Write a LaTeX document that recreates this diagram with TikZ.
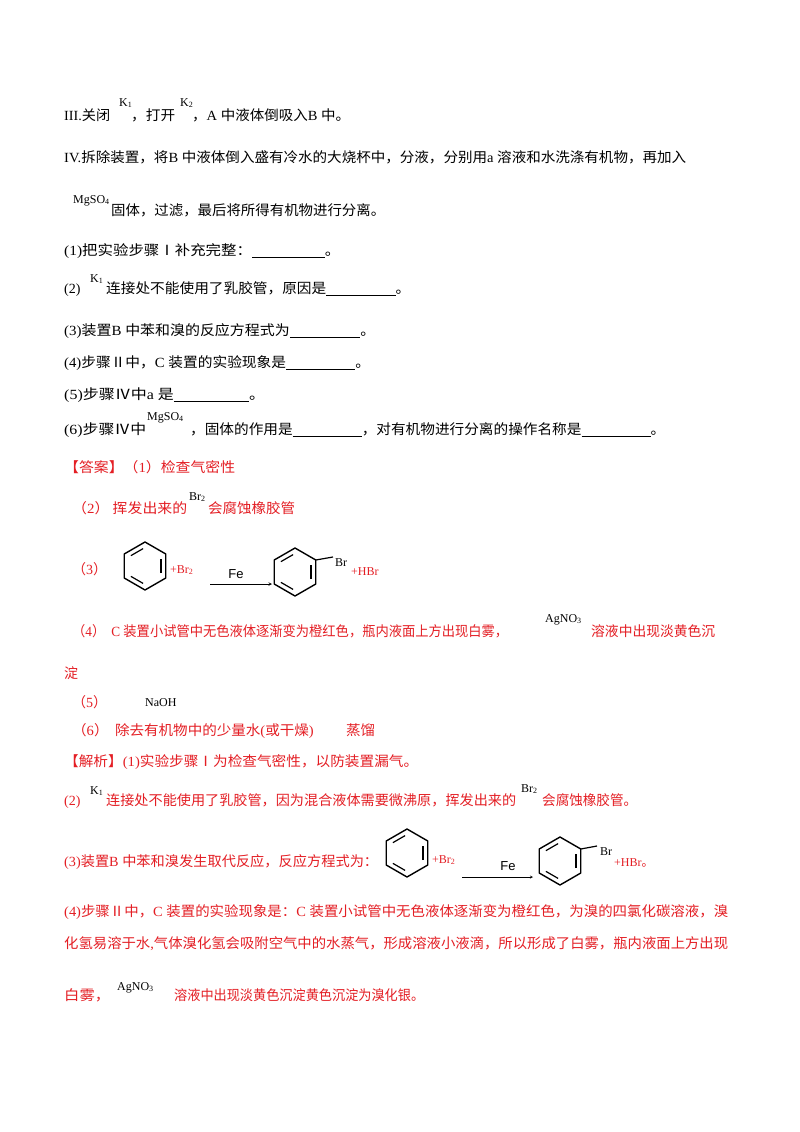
\documentclass[tikz,border=0pt]{standalone}
\usepackage{fontspec}
\usepackage{graphicx}
\newfontfamily\cjk{Noto Sans CJK SC}
\newfontfamily\tm{Liberation Serif}
\newfontfamily\ar{Liberation Sans}
\definecolor{ansred}{RGB}{228,30,36}
\newcommand{\blank}{\rule[-2pt]{66pt}{0.5pt}}
\newcommand{\fit}[2]{\resizebox{#1pt}{\height}{#2}}
\tikzset{
 txt/.style={anchor=base west, inner sep=0pt, font=\cjk\fontsize{14}{15}\selectfont},
 rtxt/.style={txt, text=ansred},
 sub/.style={anchor=base west, inner sep=0pt, font=\tm\fontsize{12}{13}\selectfont},
 ring/.style={line width=1.4pt, line join=round},
 bond/.style={line width=1.2pt},
 rxarrow/.style={-stealth, line width=0.6pt}
}
\usetikzlibrary{calc}
\newcommand{\benz}[3]{% center x, y, name
 \begin{scope}[shift={(#1,#2)}]
 \draw[ring] (90:24) -- (30:24) -- (-30:24) -- (-90:24) -- (-150:24) -- (150:24) -- cycle;
 \draw[bond] ($(30:18.5)!0.12!(-30:18.5)$) -- ($(30:18.5)!0.88!(-30:18.5)$);
 \draw[bond] ($(-90:18.5)!0.12!(-150:18.5)$) -- ($(-90:18.5)!0.88!(-150:18.5)$);
 \draw[bond] ($(150:18.5)!0.12!(90:18.5)$) -- ($(150:18.5)!0.88!(90:18.5)$);
 \coordinate (#3) at (-30:24);
 \end{scope}}
\begin{document}
\begin{tikzpicture}[x=1pt,y=-1pt]
\useasboundingbox (0,0) rectangle (800,1132);
\fill[white] (0,0) rectangle (800,1132);
% question part
\node[txt] (l1) at (64,121) {\fit{46}{\tm III.\cjk 关闭}};
\node[sub] (k1a) at (119,106) {K\textsubscript{1}};
\node[txt] (l1b) at (131,121) {\fit{44}{，打开}};
\node[sub] (k2a) at (180,106) {K\textsubscript{2}};
\node[txt] (l1c) at (192,121) {\fit{158}{，\tm A \cjk 中液体倒吸入\tm B \cjk 中。}};
\node[txt] (l2) at (64,162) {\fit{622}{\tm IV.\cjk 拆除装置，将\tm B \cjk 中液体倒入盛有冷水的大烧杯中，分液，分别用\tm a \cjk 溶液和水洗涤有机物，再加入}};
\node[sub] (mg1) at (73,203) {MgSO\textsubscript{4}};
\node[txt] (l3) at (111,215) {\fit{274}{固体，过滤，最后将所得有机物进行分离。}};
\node[txt] (q1) at (64,255) {\fit{276}{\tm (1)\cjk 把实验步骤Ⅰ补充完整：\blank 。}};
\node[sub] (k1b) at (90,282) {K\textsubscript{1}};
\node[txt] (q2a) at (64,293) {\tm (2)};
\node[txt] (q2) at (106,293) {\fit{304}{连接处不能使用了乳胶管，原因是\blank 。}};
\node[txt] (q3) at (64,335) {\fit{311}{\tm (3)\cjk 装置\tm B \cjk 中苯和溴的反应方程式为\blank 。}};
\node[txt] (q4) at (64,367) {\fit{306}{\tm (4)\cjk 步骤Ⅱ中，\tm C \cjk 装置的实验现象是\blank 。}};
\node[txt] (q5) at (64,399) {\fit{201}{\tm (5)\cjk 步骤Ⅳ中\tm a \cjk 是\blank 。}};
\node[sub] (mg2) at (147,420) {MgSO\textsubscript{4}};
\node[txt] (q6a) at (64,434) {\fit{82}{\tm (6)\cjk 步骤Ⅳ中}};
\node[txt] (q6) at (190,434) {\fit{475}{，固体的作用是\blank ，对有机物进行分离的操作名称是\blank 。}};
% answers
\node[rtxt] (a1) at (64,472) {\fit{171}{【答案】（\tm 1\cjk ）检查气密性}};
\node[rtxt] (a2) at (72,513) {\fit{115}{（\tm 2\cjk ）\ 挥发出来的}};
\node[sub] (br1) at (189,500) {Br\textsubscript{2}};
\node[rtxt] (a2b) at (208,513) {\fit{87}{会腐蚀橡胶管}};
\node[rtxt] (a3) at (72,574) {（\tm 3\cjk ）};
\benz{145}{566}{r1}
\node[sub, text=ansred] (pb1) at (170,573) {+Br\textsubscript{2}};
\node[anchor=base, inner sep=0pt, font=\ar\fontsize{13}{14}\selectfont] (fe1) at (236,578) {Fe};
\coordinate (ar1s) at (210,584);
\coordinate (ar1e) at (272,584);
\draw[rxarrow] (ar1s) -- (ar1e);
\benz{295}{572}{r2}
\coordinate (bre2) at (333,557);
\draw[bond] (r2) -- (bre2);
\node[sub] (br2) at (335,566) {Br};
\node[sub, text=ansred] (hbr1) at (351,575) {+HBr};
\node[rtxt] (a4) at (72,636) {\fit{436}{（\tm 4\cjk ）\ \ \tm C \cjk 装置小试管中无色液体逐渐变为橙红色，瓶内液面上方出现白雾，}};
\node[sub] (ag1) at (545,622) {AgNO\textsubscript{3}};
\node[rtxt] (a4b) at (591,636) {\fit{124}{溶液中出现淡黄色沉}};
\node[rtxt] (a4c) at (64,678) {淀};
\node[rtxt] (a5) at (72,707) {（\tm 5\cjk ）};
\node[sub] (naoh) at (145,706) {NaOH};
\node[rtxt] (a6) at (72,735) {\fit{303}{（\tm 6\cjk ）\ \ 除去有机物中的少量水\tm (\cjk 或干燥\tm )\cjk \qquad\ 蒸馏}};
% analysis
\node[rtxt] (b1) at (64,766) {\fit{354}{【解析】\tm (1)\cjk 实验步骤Ⅰ为检查气密性，以防装置漏气。}};
\node[rtxt] (b2a) at (64,805) {\tm (2)};
\node[sub] (k1c) at (90,794) {K\textsubscript{1}};
\node[rtxt] (b2) at (106,805) {\fit{410}{连接处不能使用了乳胶管，因为混合液体需要微沸原，挥发出来的}};
\node[sub] (br3) at (521,792) {Br\textsubscript{2}};
\node[rtxt] (b2b) at (542,805) {\fit{95}{会腐蚀橡胶管。}};
\node[rtxt] (b3) at (64,866) {\fit{314}{\tm (3)\cjk 装置\tm B \cjk 中苯和溴发生取代反应，反应方程式为：}};
\benz{407}{853}{r3}
\node[sub, text=ansred] (pb2) at (432,863) {+Br\textsubscript{2}};
\node[anchor=base, inner sep=0pt, font=\ar\fontsize{13}{14}\selectfont] (fe2) at (508,870) {Fe};
\coordinate (ar2s) at (462,877);
\coordinate (ar2e) at (533,877);
\draw[rxarrow, line width=0.4pt] (ar2s) -- (ar2e);
\benz{560}{861}{r4}
\coordinate (bre4) at (597,846);
\draw[bond] (r4) -- (bre4);
\node[sub] (br4) at (600,855) {Br};
\node[sub, text=ansred] (hbr2) at (614,866) {+HBr\cjk 。};
\node[rtxt] (b4) at (64,916) {\fit{664}{\tm (4)\cjk 步骤Ⅱ中，\tm C \cjk 装置的实验现象是：\tm C \cjk 装置小试管中无色液体逐渐变为橙红色，为溴的四氯化碳溶液，溴}};
\node[rtxt] (b4b) at (64,948) {\fit{664}{化氢易溶于水\tm ,\cjk 气体溴化氢会吸附空气中的水蒸气，形成溶液小液滴，所以形成了白雾，瓶内液面上方出现}};
\node[rtxt] (b4c) at (64,1000) {\fit{46}{白雾，}};
\node[sub] (ag2) at (117,990) {AgNO\textsubscript{3}};
\node[rtxt] (b4d) at (174,1000) {\fit{250}{溶液中出现淡黄色沉淀黄色沉淀为溴化银。}};
\end{tikzpicture}
\end{document}
